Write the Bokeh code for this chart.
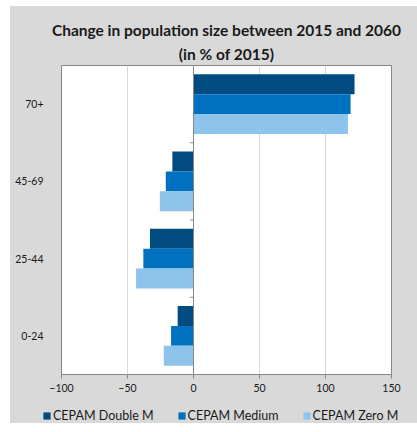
from bokeh.plotting import figure
from bokeh.layouts import column
from bokeh.models import Title, Legend, LegendItem, Span, FixedTicker
from bokeh.transform import dodge
from bokeh.embed import file_html
from bokeh.resources import INLINE

categories = ["0-24", "25-44", "45-69", "70+"]
double_m = [-12, -33, -16, 122]
medium = [-17, -38, -21, 119]
zero_m = [-22.5, -43.5, -25.5, 117]
series_names = ["CEPAM Double M", "CEPAM Medium", "CEPAM Zero M"]
x_ticks = [-100, -50, 0, 50, 100, 150]
title_lines = ["Change in population size between 2015 and 2060", "(in % of 2015)"]

colors = ["#004B80", "#0070C0", "#8EC3EB"]
FONT = "Lato"
TXT = "#1a1a1a"
BG = "#d9d9d9"

p = figure(y_range=categories, x_range=(x_ticks[0], x_ticks[-1]),
           width=407, height=398, title=None,
           min_border_left=51, min_border_right=26, min_border_top=59, min_border_bottom=30,
           output_backend="svg", toolbar_location=None)
p.frame_align = False
p.background_fill_color = "white"
p.border_fill_color = BG
p.outline_line_color = "#868686"
p.outline_line_width = 1

p.xgrid.grid_line_color = "#d9d9d9"
p.xgrid.ticker = FixedTicker(ticks=x_ticks)
p.ygrid.grid_line_color = None

data = dict(cat=categories, d=double_m, m=medium, z=zero_m)
bh = 0.258
offsets = [bh, 0, -bh]
fields = ["d", "m", "z"]
for fld, off, col in zip(fields, offsets, colors):
    p.hbar(y=dodge("cat", off, range=p.y_range), right=fld, left=0, height=bh,
           source=data, fill_color=col, line_color=None)

# vertical category axis line at 0 with small boundary ticks
p.add_layout(Span(location=0, dimension="height", line_color="#868686", line_width=1))
bounds = list(range(1, len(categories)))
p.segment(x0=[-2.5] * len(bounds), x1=[0] * len(bounds), y0=bounds, y1=bounds,
          line_color="#868686", line_width=1)

xa = p.xaxis[0]
xa.ticker = FixedTicker(ticks=x_ticks)
xa.axis_line_color = None
xa.major_tick_line_color = "#868686"
xa.major_tick_out = 4
xa.major_tick_in = 0
xa.minor_tick_line_color = None
xa.major_label_text_font = FONT
xa.major_label_text_font_size = "10.5px"
xa.major_label_text_color = TXT
xa.major_label_standoff = 5

ya = p.yaxis[0]
ya.axis_line_color = None
ya.major_tick_line_color = None
ya.minor_tick_line_color = None
ya.major_label_text_font = FONT
ya.major_label_text_font_size = "10.5px"
ya.major_label_text_color = TXT
ya.major_label_standoff = 12

# two-line title (first added sits nearest the frame)
p.add_layout(Title(text=title_lines[1], align="center", text_font=FONT, text_font_style="bold",
                   text_font_size="15.5px", text_color=TXT, standoff=6), "above")
p.add_layout(Title(text=title_lines[0], align="center", text_font=FONT, text_font_style="bold",
                   text_font_size="15.5px", text_color=TXT, standoff=1), "above")

# legend strip below the chart
lg = figure(width=407, height=19, min_border=0, x_axis_location=None, y_axis_location=None,
            y_range=categories, x_range=(x_ticks[0], x_ticks[-1]),
            output_backend="svg", toolbar_location=None)
lg.frame_align = False
lg.background_fill_color = BG
lg.border_fill_color = BG
lg.outline_line_color = None
lg.grid.grid_line_color = None
items = []
for name, fld, col in zip(series_names, fields, colors):
    r = lg.hbar(y="cat", right=fld, left=0, height=bh, source=data,
                fill_color=col, line_color=None, visible=False)
    items.append(LegendItem(label=name, renderers=[r]))
legend = Legend(items=items, orientation="horizontal", location=(32, 0),
                background_fill_alpha=0, border_line_alpha=0,
                inactive_fill_alpha=0,
                glyph_width=9, glyph_height=9, label_standoff=2, spacing=23,
                label_text_font=FONT, label_text_font_size="12.5px", label_text_color=TXT,
                margin=0, padding=0)
lg.add_layout(legend, "center")

layout = column(p, lg, spacing=0, margin=(6, 0, 0, 10), styles={"background-color": BG})
open("out.html", "w").write(file_html(layout, INLINE))
